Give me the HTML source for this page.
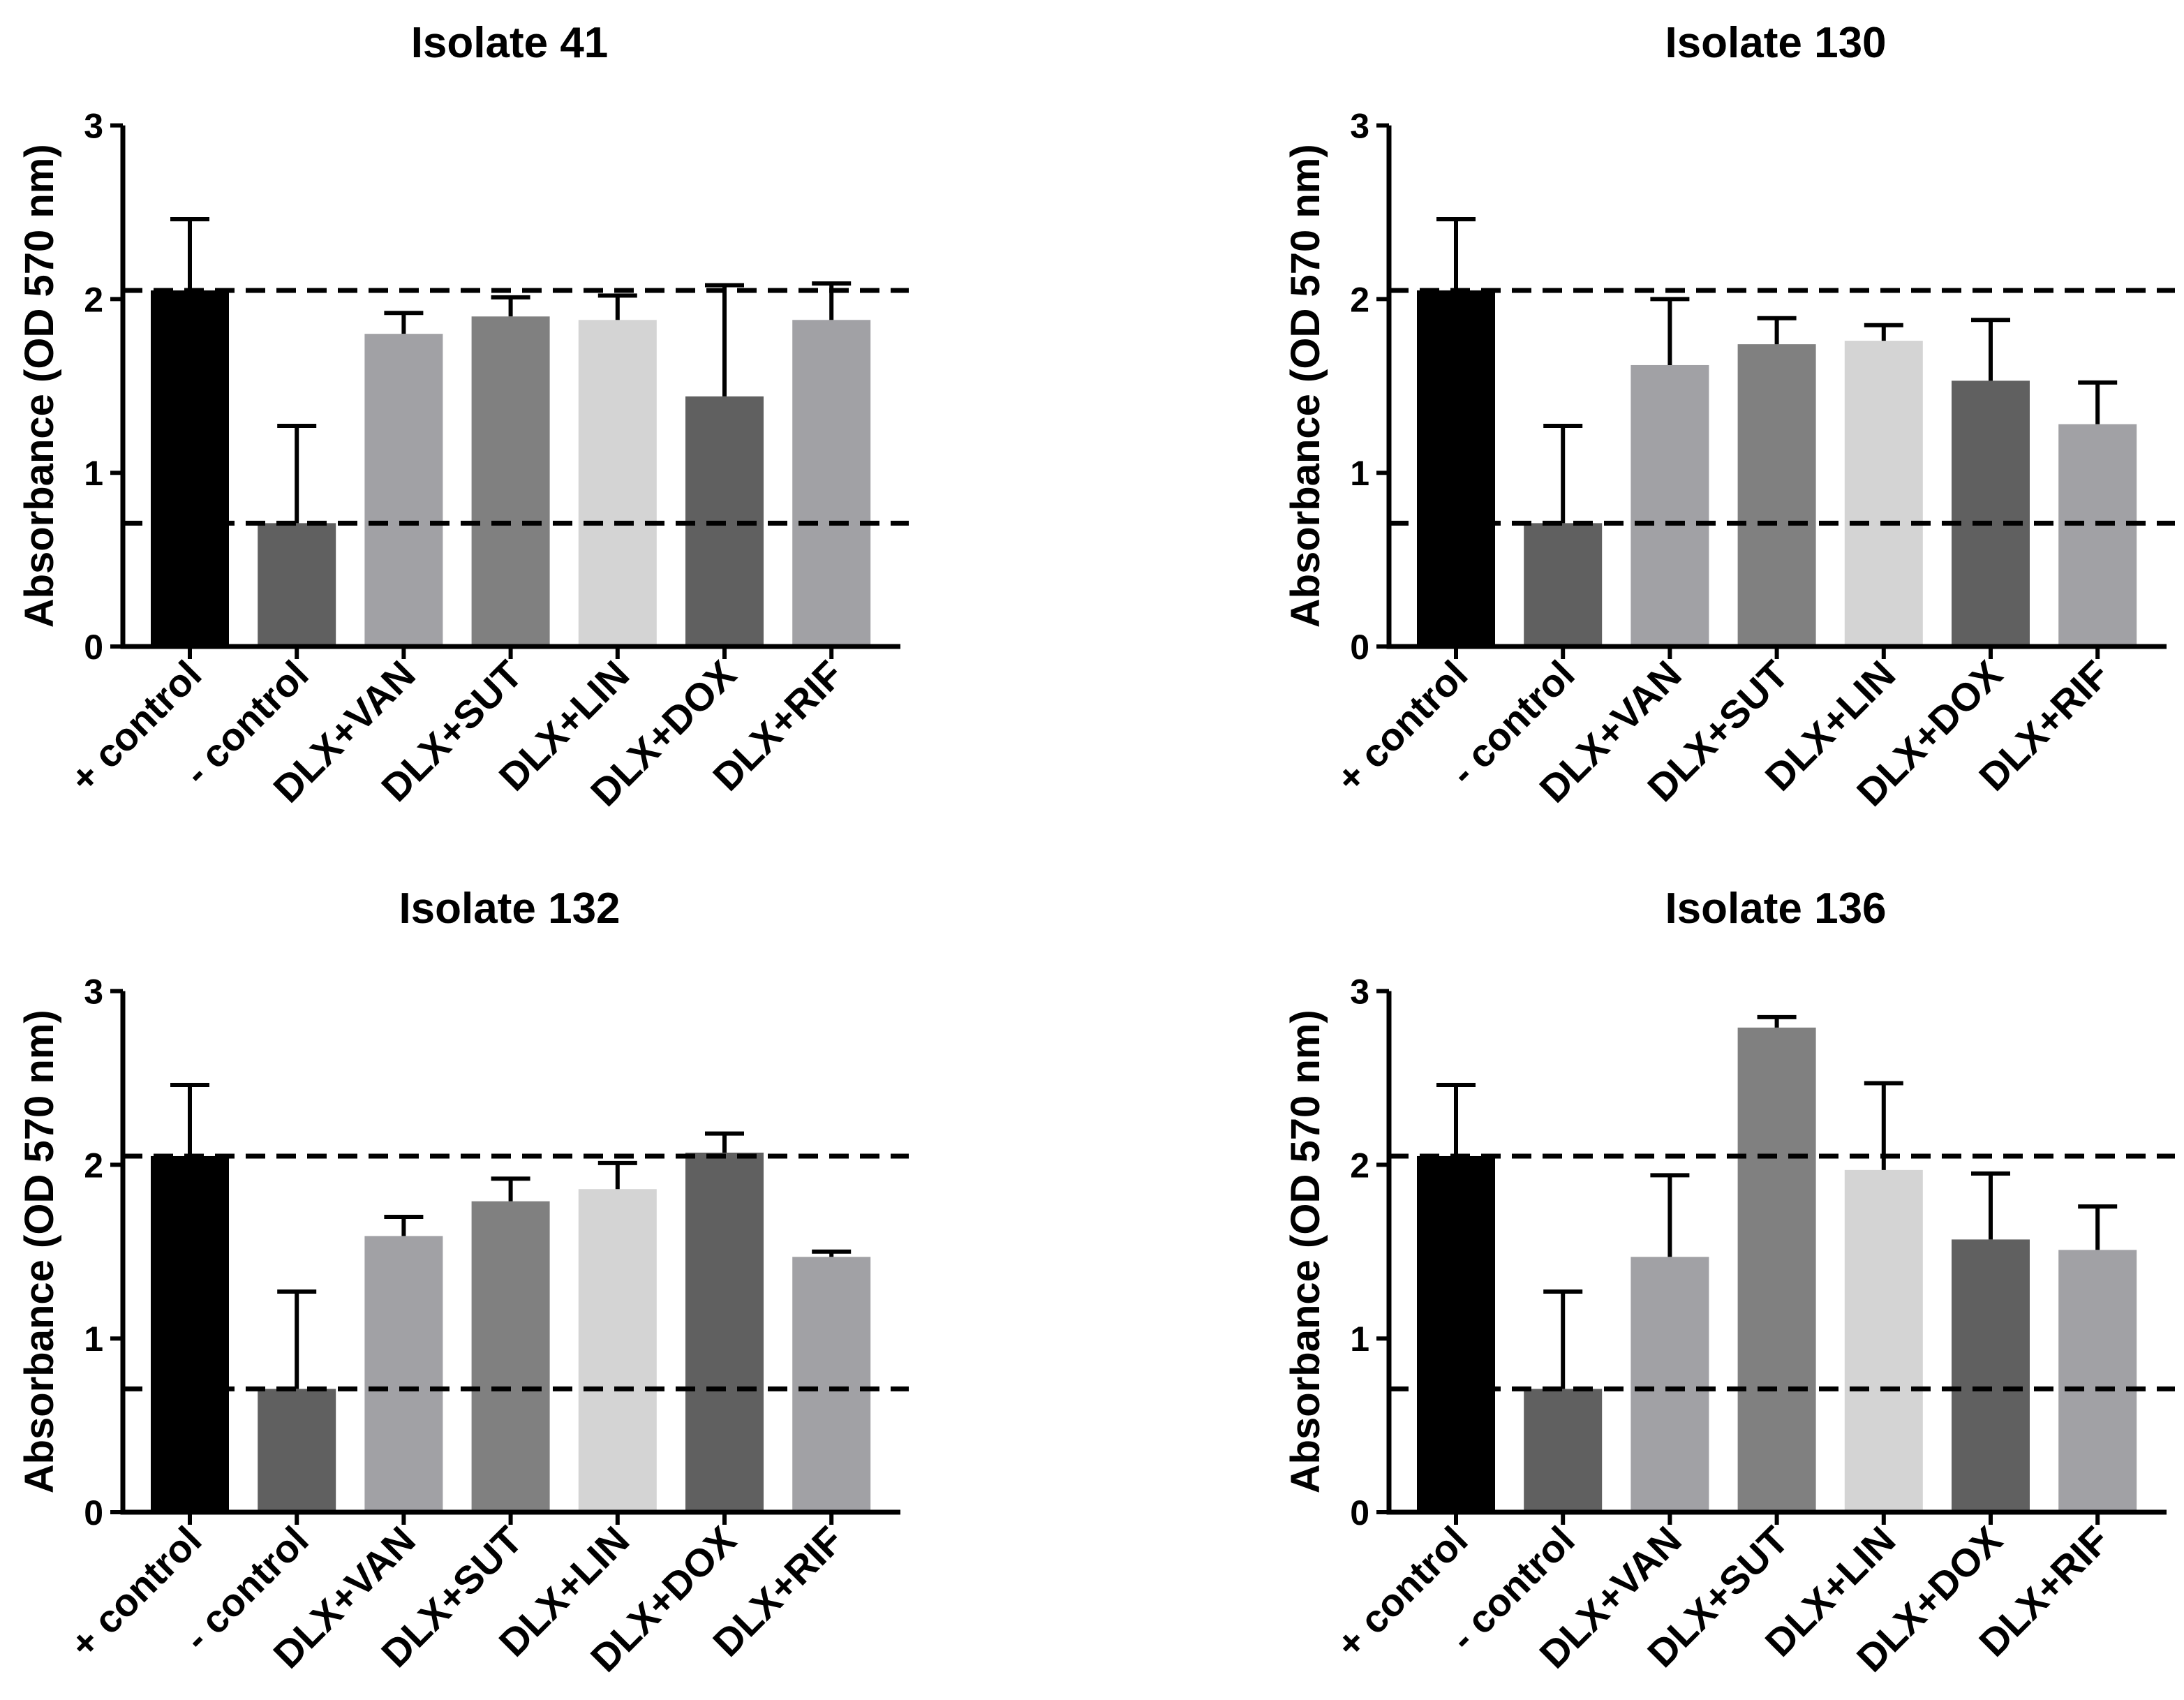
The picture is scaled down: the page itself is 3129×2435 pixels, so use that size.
<!DOCTYPE html>
<html><head><meta charset="utf-8"><style>html,body{margin:0;padding:0;background:#fff}svg{display:block}text{font-family:"Liberation Sans",Arial,sans-serif;font-weight:bold;fill:#000}</style></head>
<body>
<svg id="chart" width="3129" height="2435" viewBox="0 0 1564.5 1217.5" xmlns="http://www.w3.org/2000/svg"></svg>
<script>
const categories = ["+ control","- control","DLX+VAN","DLX+SUT","DLX+LIN","DLX+DOX","DLX+RIF"];
const titles = ["Isolate 41","Isolate 130","Isolate 132","Isolate 136"];
const means41 = [2.05,0.71,1.80,1.90,1.88,1.44,1.88];
const errTop41 = [2.46,1.27,1.92,2.01,2.02,2.08,2.09];
const means130 = [2.05,0.71,1.62,1.74,1.76,1.53,1.28];
const errTop130 = [2.46,1.27,2.00,1.89,1.85,1.88,1.52];
const means132 = [2.05,0.71,1.59,1.79,1.86,2.07,1.47];
const errTop132 = [2.46,1.27,1.70,1.92,2.01,2.18,1.50];
const means136 = [2.05,0.71,1.47,2.79,1.97,1.57,1.51];
const errTop136 = [2.46,1.27,1.94,2.85,2.47,1.95,1.76];
const refLines = [2.05,0.71];
const yTicks = [0,1,2,3];
const colors = ["#000000","#606060","#a1a1a5","#808080","#d4d4d4","#606060","#a1a1a5"];

const svg = document.getElementById('chart');
const NS = "http://www.w3.org/2000/svg";
function mk(tag, attrs, parent){const e=document.createElementNS(NS,tag);for(const k in attrs)e.setAttribute(k,attrs[k]);(parent||svg).appendChild(e);return e;}

const panels = [
  {x0:88, y0:463, means:means41, errs:errTop41, key:"isolate-41"},
  {x0:995, y0:463, means:means130, errs:errTop130, key:"isolate-130"},
  {x0:88, y0:1083, means:means132, errs:errTop132, key:"isolate-132"},
  {x0:995, y0:1083, means:means136, errs:errTop136, key:"isolate-136"}
];

panels.forEach((p,pi)=>{
  const g = mk('g',{});
  
  
  const unit = 124.4;
  const y = v => p.y0 - v*unit;
  const step = 76.6, bw = 56;
  const xc = i => p.x0 + 48 + i*step;
  const xEnd = p.x0 + 557;

  const t = mk('text',{x:p.x0+277,y:p.y0-422,'text-anchor':'middle','font-size':31},g);
  t.textContent = titles[pi];
  
  

  p.means.forEach((m,i)=>{
    const r = mk('rect',{x:xc(i)-bw/2,y:y(m),width:bw,height:y(0)-y(m),fill:colors[i]},g);
    
    
    const eb = mk('path',{d:`M${xc(i)} ${y(m)} V${y(p.errs[i])} M${xc(i)-14} ${y(p.errs[i])} H${xc(i)+14}`,stroke:'#000','stroke-width':3,fill:'none'},g);
    
    
    mk('line',{x1:xc(i),x2:xc(i),y1:y(0),y2:y(0)+9,stroke:'#000','stroke-width':3},g);
    const lb = mk('text',{transform:`translate(${xc(i)+10},${y(0)+22}) rotate(-45)`,'text-anchor':'end','font-size':28},g);
    lb.textContent = categories[i];
    
    
  });

  refLines.forEach(v=>{
    const l = mk('line',{x1:p.x0,x2:xEnd+6,y1:y(v),y2:y(v),stroke:'#000','stroke-width':3.5,'stroke-dasharray':'14,8'},g);
    
    
  });

  const ax = mk('path',{d:`M${p.x0} ${y(3)} V${y(0)} H${xEnd}`,stroke:'#000','stroke-width':3.5,fill:'none'},g);
  
  
  yTicks.forEach(v=>{
    mk('line',{x1:p.x0-9,x2:p.x0,y1:y(v),y2:y(v),stroke:'#000','stroke-width':3},g);
    const tl = mk('text',{x:p.x0-14,y:y(v)+9,'text-anchor':'end','font-size':25},g);
    tl.textContent = v;
    
    
  });
  const yt = mk('text',{transform:`translate(${p.x0-50},${y(1.5)}) rotate(-90)`,'text-anchor':'middle','font-size':29},g);
  yt.textContent = "Absorbance (OD 570 nm)";
  
  
});
</script>
</body></html>
